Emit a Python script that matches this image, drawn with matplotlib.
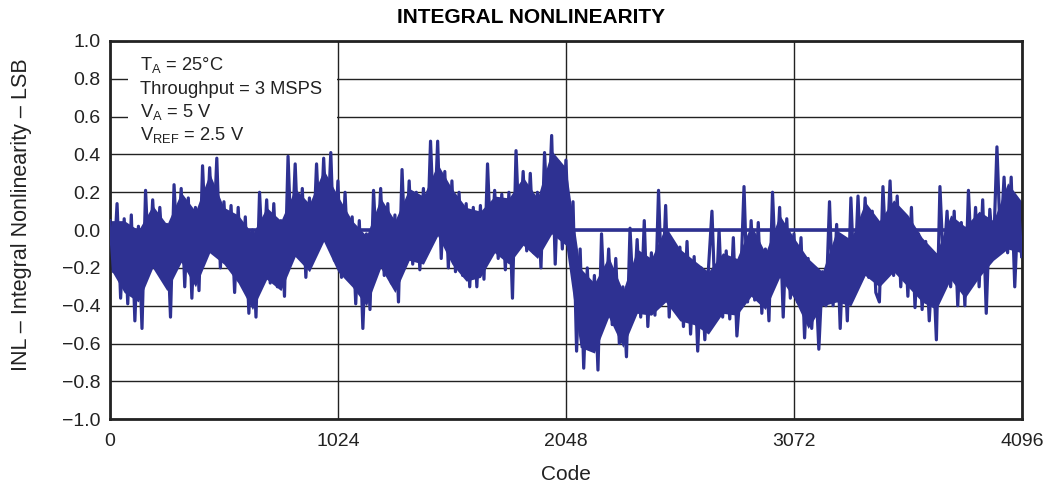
import numpy as np
import matplotlib
matplotlib.use('Agg')
import matplotlib.pyplot as plt
from matplotlib.patches import Rectangle

# INL, one value every 16 codes (peaks and troughs)
step = 16
inl = [
    0.05, -0.22, 0.14, -0.36, 0.06, -0.39, 0.08, -0.48, 0.02, -0.52,
    0.21, -0.22, 0.16, -0.20, 0.12, -0.18, 0.03, -0.46, 0.24, -0.15,
    0.22, -0.30, 0.17, -0.36, 0.12, -0.32, 0.34, -0.10, 0.33, -0.08,
    0.38, -0.20, 0.15, -0.18, 0.13, -0.33, 0.12, -0.28, 0.07, -0.44,
    0.00, -0.46, 0.20, -0.20,
    0.16, -0.28, 0.14, -0.30, 0.05, -0.35, 0.39, -0.12, 0.35, -0.14,
    0.22, -0.25, 0.17, -0.12, 0.35, -0.08, 0.38, -0.04, 0.41, -0.16,
    0.26, -0.25, 0.20, -0.22, 0.07, -0.39, 0.05, -0.52, -0.02, -0.42,
    0.21, -0.18, 0.22, -0.24, 0.14, -0.28, 0.08, -0.38, 0.32, -0.17,
    0.26, -0.18,
    0.20, -0.21, 0.22, -0.12, 0.47, -0.02, 0.47, -0.15, 0.31, -0.20,
    0.26, -0.22, 0.20, -0.24, 0.14, -0.30, 0.12, -0.30, 0.13, -0.26,
    0.35, -0.12, 0.21, -0.15, 0.19, -0.21, 0.20, -0.36, 0.42, -0.06,
    0.31, -0.11, 0.30, -0.12, 0.20, -0.20, 0.41, 0.02, 0.50, -0.18,
    0.36, -0.10,
    0.37, -0.10, 0.15, -0.64, -0.10, -0.73, -0.20, -0.60, -0.24, -0.74,
    -0.02, -0.48, -0.10, -0.50, -0.15, -0.60, -0.30, -0.67, 0.01, -0.40,
    -0.05, -0.46, 0.05, -0.51, -0.12, -0.45, 0.21, -0.35, 0.13, -0.46,
    -0.06, -0.40, -0.09, -0.51, -0.06, -0.55, -0.14, -0.64, -0.20, -0.58,
    -0.21, 0.10,
    -0.44, 0.00, -0.46, -0.11, -0.47, -0.04, -0.56, -0.30, 0.23, -0.38,
    0.05, -0.37, 0.04, -0.44, -0.10, -0.48, 0.20, -0.26, 0.12, -0.46,
    0.06, -0.36, -0.02, -0.38, -0.04, -0.57, -0.15, -0.52, -0.20, -0.63,
    -0.22, -0.40, 0.15, -0.40, 0.03, -0.52, -0.04, -0.48, 0.17, -0.30,
    0.18, -0.26, 0.17, -0.25, 0.10, -0.33, -0.38, 0.23, -0.18, 0.26,
    -0.24, 0.18, -0.30, 0.07, -0.35, 0.12, -0.41, -0.02, -0.42, -0.06,
    -0.48, -0.13, -0.58, 0.23, -0.20, 0.10, -0.30, 0.10, -0.40, 0.04,
    -0.40, 0.21, -0.22, 0.12, -0.30, 0.16, -0.44, 0.11, -0.14, 0.44,
    -0.08, 0.28, -0.12, 0.28, -0.30, 0.15, -0.14,
]
codes = np.minimum(np.arange(len(inl)) * step, 4095)

# solid core of the trace, read every 64 codes
core_step = 64
core_hi = [
    0.05, 0.05, 0.00, 0.13, 0.03, 0.20, 0.10, 0.30, 0.12, 0.08,
    -0.02, 0.12, 0.05, 0.22, 0.14, 0.32, 0.18, 0.05, -0.03, 0.17,
    0.05, 0.22, 0.18, 0.35, 0.22, 0.12, 0.10, 0.18, 0.17, 0.28,
    0.17, 0.42, 0.33, -0.20, -0.28, -0.14, -0.32, -0.10, -0.15, 0.02,
    -0.10, -0.16, -0.22, -0.12, -0.15, 0.03, -0.12, 0.08, -0.04, -0.15,
    -0.22, 0.00, -0.05, 0.15, 0.05, 0.16, 0.08, -0.04, -0.12, 0.08,
    0.02, 0.10, 0.05, 0.25, 0.15,
]
core_lo = [
    -0.20, -0.33, -0.38, -0.20, -0.32, -0.17, -0.30, -0.12, -0.18, -0.28,
    -0.42, -0.26, -0.32, -0.14, -0.22, -0.06, -0.22, -0.30, -0.40, -0.20,
    -0.33, -0.16, -0.18, -0.03, -0.18, -0.27, -0.25, -0.12, -0.18, -0.08,
    -0.15, -0.02, -0.08, -0.62, -0.65, -0.46, -0.62, -0.44, -0.45, -0.38,
    -0.48, -0.50, -0.55, -0.44, -0.45, -0.35, -0.42, -0.25, -0.36, -0.52,
    -0.40, -0.38, -0.40, -0.24, -0.30, -0.22, -0.30, -0.38, -0.42, -0.26,
    -0.36, -0.25, -0.16, -0.10, -0.12,
]
core_codes = np.arange(len(core_hi)) * core_step

x_ticks = [0, 1024, 2048, 3072, 4096]
y_ticks = [-1.0, -0.8, -0.6, -0.4, -0.2, 0.0, 0.2, 0.4, 0.6, 0.8, 1.0]
notes = [r'$\mathregular{T_A}$ = 25°C', 'Throughput = 3 MSPS',
         r'$\mathregular{V_A}$ = 5 V', r'$\mathregular{V_{REF}}$ = 2.5 V']

plt.rcParams['font.family'] = ['Liberation Sans', 'DejaVu Sans']
plt.rcParams['mathtext.fontset'] = 'custom'
plt.rcParams['mathtext.rm'] = 'Liberation Sans'
plt.rcParams['mathtext.it'] = 'Liberation Sans'

blue = '#2e3192'
ink = '#222222'
fig = plt.figure(figsize=(10.47, 4.88), dpi=100)
ax = fig.add_axes([0.105, 0.141, 0.871, 0.775])

ax.set_axisbelow(True)
ax.grid(True, color=ink, lw=1.0)
ax.add_patch(Rectangle((0.02, 0.712), 0.229, 0.288, transform=ax.transAxes,
                       facecolor='white', edgecolor='none', zorder=1))

ax.axhline(0, color=blue, lw=2.6, zorder=2)
ax.fill_between(core_codes, core_lo, core_hi, color=blue, lw=0, zorder=2)
ax.plot(codes, inl, color=blue, lw=2.3, zorder=3)

ax.set_xlim(0, 4096)
ax.set_ylim(-1.0, 1.0)
ax.set_xticks(x_ticks)
ax.set_yticks(y_ticks)
ax.set_yticklabels(['{:.1f}'.format(v).replace('-', '\u2212') for v in y_ticks])
ax.tick_params(length=0, labelsize=14, colors=ink)
ax.tick_params(axis='x', pad=10)
ax.tick_params(axis='y', pad=7)
for s in ax.spines.values():
    s.set_linewidth(2.0)
    s.set_color(ink)

for i, t in enumerate(notes):
    ax.text(0.033, 0.923 - i * 0.062, t, transform=ax.transAxes,
            fontsize=13.2, va='baseline', ha='left', color=ink, zorder=4)

# title is centred on the page, not on the axes
fig.text(0.507, 0.953, 'INTEGRAL NONLINEARITY', fontsize=15,
         fontweight='bold', ha='center', va='baseline')
ax.set_xlabel('Code', fontsize=15, color=ink, va='top')
ax.xaxis.set_label_coords(0.5, -0.12)
ax.set_ylabel('INL \u2013 Integral Nonlinearity \u2013 LSB', fontsize=15.5,
              color=ink)
ax.yaxis.set_label_coords(-0.085, 0.542)

plt.savefig('out.png', dpi=100)
